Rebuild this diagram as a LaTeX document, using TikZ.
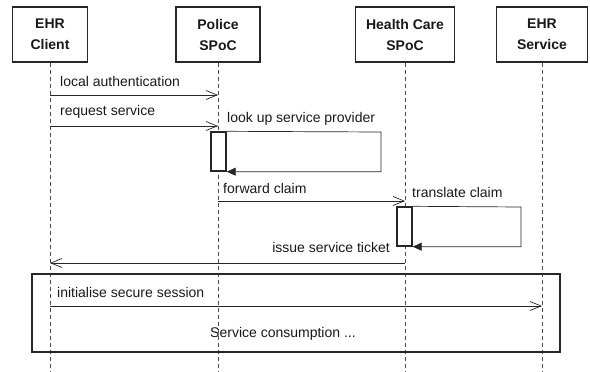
\documentclass[tikz,border=0pt]{standalone}
\usepackage{fontspec}
\setmainfont{Liberation Sans}
\usetikzlibrary{arrows.meta}

\tikzset{
    actor/.style={draw=black!85, line width=1.4pt, minimum height=55pt, align=center,
        font=\bfseries\fontsize{14}{21}\selectfont, text=black!90},
    life/.style={black!70, dash pattern=on 4pt off 3pt, line width=0.7pt},
    msg/.style={black!85, line width=0.7pt, -{Straight Barb[length=11pt,width=9pt]}},
    selfmsg/.style={black!85, line width=0.7pt, -{Triangle[length=9pt,width=8pt]}},
    actbox/.style={draw=black!85, fill=white, line width=1.4pt, minimum width=15pt,
        minimum height=39pt, inner sep=0pt},
    lbl/.style={inner sep=0pt, text=black!90, font=\fontsize{14}{16}\selectfont},
}

\begin{document}
\begin{tikzpicture}[x=1pt, y=-1pt]
    \useasboundingbox (0,0) rectangle (590,372);

    \node[actor, minimum width=75pt] (cli) at (50,34.5) {EHR\\Client};
    \node[actor, minimum width=84pt] (pol) at (218,34.5) {Police\\SPoC};
    \node[actor, minimum width=99pt] (hc) at (405,34.5) {Health Care\\SPoC};
    \node[actor, minimum width=91pt] (srv) at (542,34.5) {EHR\\Service};

    \foreach \n in {cli, pol, hc, srv}
        \draw[life] (\n.south) -- (\n |- 0,372);

    \foreach \i/\a/\b/\y in {1/cli/pol/95, 2/cli/pol/126, 3/pol/hc/201, 4/hc/cli/263, 5/cli/srv/306}
    {
        \coordinate (s\i) at (\a |- 0,\y);
        \coordinate (e\i) at (\b |- 0,\y);
        \draw[msg] (s\i) -- (e\i);
    }

    \node[lbl, anchor=base west] (tauth) at (60,86) {local authentication};
    \node[lbl, anchor=base west] (treq) at (60,115) {request service};

    \node[actbox] (pact) at (218.5,151.5) {};
    \coordinate (ploop) at (381,132);
    \draw[selfmsg] (pact.north east) -- (ploop) |- (pact.south east);
    \node[lbl, anchor=base west] (tlook) at (227,122) {look up service provider};

    \node[lbl, anchor=base west] (tfwd) at (223,193) {forward claim};

    \node[actbox] (hact) at (404.5,226.5) {};
    \coordinate (hloop) at (521,207);
    \draw[selfmsg] (hact.north east) -- (hloop) |- (hact.south east);
    \node[lbl, anchor=base west] (ttrans) at (412,197) {translate claim};

    \node[lbl, anchor=base east] (tissue) at (390,252) {issue service ticket};

    \draw[black!85, line width=1.4pt] (32,274) rectangle (560,352);
    \node[lbl, anchor=base west] (tinit) at (57,297) {initialise secure session};
    \node[lbl, anchor=base] (tcons) at (283,337) {Service consumption ...};
\end{tikzpicture}
\end{document}
